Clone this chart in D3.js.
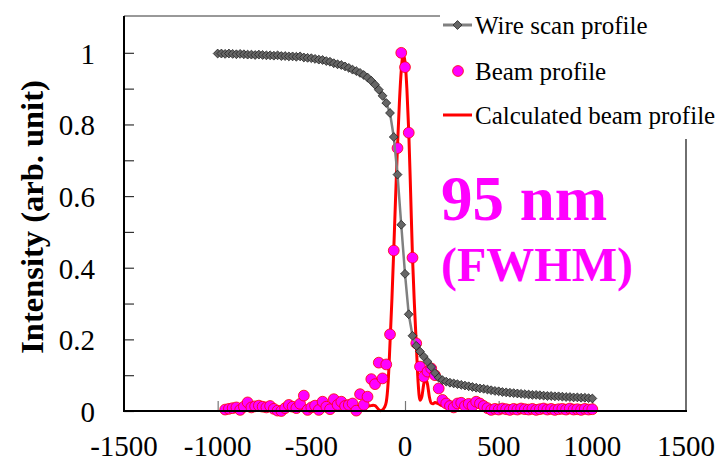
<!DOCTYPE html>
<html>
<head>
<meta charset="utf-8">
<script src="https://cdn.jsdelivr.net/npm/d3@7/dist/d3.min.js"></script>
<style>
  html, body { margin: 0; padding: 0; background: #fff; }
  svg { display: block; }
</style>
</head>
<body>
<svg id="chart" width="726" height="468" font-family="'Liberation Serif', 'DejaVu Serif', 'Times New Roman', Times, serif"></svg>
<script>
// ---------- data ----------
const wireX = [-1000,-980,-960,-940,-920,-900,-880,-860,-840,-820,-800,-780,-760,-740,-720,-700,-680,-660,-640,-620,-600,-580,-560,-540,-520,-500,-480,-460,-440,-420,-400,-380,-360,-340,-320,-300,-280,-260,-240,-220,-200,-180,-160,-140,-120,-100,-80,-60,-40,-20,0,20,40,60,80,100,120,140,160,180,200,220,240,260,280,300,320,340,360,380,400,420,440,460,480,500,520,540,560,580,600,620,640,660,680,700,720,740,760,780,800,820,840,860,880,900,920,940,960,980,1000];
const wireY = [0.998,0.998,0.997,0.998,0.997,0.996,0.997,0.996,0.995,0.995,0.994,0.995,0.994,0.993,0.993,0.992,0.993,0.991,0.991,0.990,0.990,0.989,0.990,0.987,0.986,0.985,0.983,0.981,0.980,0.977,0.975,0.971,0.968,0.966,0.962,0.958,0.953,0.949,0.944,0.938,0.931,0.922,0.911,0.897,0.880,0.860,0.832,0.765,0.660,0.520,0.383,0.270,0.210,0.182,0.166,0.152,0.138,0.123,0.106,0.093,0.086,0.082,0.079,0.077,0.075,0.073,0.071,0.069,0.067,0.065,0.063,0.062,0.060,0.058,0.056,0.055,0.053,0.052,0.051,0.050,0.049,0.048,0.047,0.046,0.045,0.045,0.044,0.043,0.042,0.042,0.041,0.041,0.040,0.039,0.039,0.038,0.038,0.037,0.037,0.036,0.035];

const beamX = [-960,-940,-920,-900,-880,-860,-840,-820,-800,-780,-760,-740,-720,-700,-680,-660,-640,-620,-600,-580,-560,-540,-520,-500,-480,-460,-440,-420,-400,-380,-360,-340,-320,-300,-280,-260,-240,-220,-200,-180,-160,-140,-120,-100,-80,-60,-40,-20,0,20,40,60,80,100,120,140,160,180,200,220,240,260,280,300,320,340,360,380,400,420,440,460,480,500,520,540,560,580,600,620,640,660,680,700,720,740,760,780,800,820,840,860,880,900,920,940,960,980,1000];
const beamY = [0.004,0.006,0.008,0.010,0.003,0.012,0.024,0.010,0.013,0.015,0.012,0.010,0.014,0.006,0.001,0.000,0.008,0.017,0.012,0.008,0.020,0.043,0.003,0.010,0.015,0.003,0.026,0.012,0.005,0.033,0.017,0.026,0.014,0.017,0.021,0.001,0.047,0.017,0.040,0.089,0.075,0.135,0.091,0.130,0.214,0.448,0.734,1.000,0.960,0.777,0.428,0.189,0.124,0.096,0.110,0.119,0.100,0.063,0.031,0.021,0.014,0.010,0.021,0.023,0.014,0.020,0.014,0.026,0.021,0.014,0.008,0.003,0.006,0.004,0.007,0.005,0.003,0.006,0.004,0.007,0.005,0.004,0.006,0.003,0.005,0.007,0.004,0.006,0.003,0.005,0.006,0.004,0.007,0.004,0.005,0.003,0.006,0.004,0.005];

const calcX = [-500,-480,-460,-440,-420,-400,-380,-360,-340,-320,-300,-280,-260,-240,-220,-200,-180,-170,-160,-150,-140,-130,-120,-110,-100,-90,-80,-70,-60,-50,-40,-30,-20,-10,0,10,20,30,40,50,60,70,80,90,100,110,120,130,140,150,160,180,200,220,240,260,280,300,320,340,360,380,400,420,440,460,480,500];
const calcY = [0.005,0.008,0.010,0.010,0.010,0.010,0.011,0.011,0.011,0.010,0.010,0.010,0.011,0.012,0.013,0.014,0.015,0.016,0.015,0.010,0.004,0.001,0.003,0.010,0.025,0.080,0.190,0.310,0.450,0.600,0.740,0.860,0.950,0.995,0.975,0.900,0.780,0.610,0.430,0.300,0.190,0.080,0.030,0.040,0.075,0.090,0.075,0.040,0.022,0.020,0.024,0.020,0.015,0.016,0.015,0.014,0.013,0.013,0.014,0.013,0.012,0.012,0.011,0.010,0.008,0.006,0.004,0.002];

const xTicks = [-1500,-1000,-500,0,500,1000,1500];
const yTicks = [0,0.2,0.4,0.6,0.8,1];
const yMinorTicks = [0.1,0.3,0.5,0.7,0.9];
const seriesNames = ["Wire scan profile","Beam profile","Calculated beam profile"];
const annotation = ["95 nm","(FWHM)"];

// ---------- layout ----------
const svg = d3.select("#chart");
const mLeft = 124, mRight = 686, mTop = 16, mBottom = 411;
const x = d3.scaleLinear().domain([-1500, 1500]).range([mLeft, mRight]);
const y = d3.scaleLinear().domain([0, 1.1]).range([mBottom, mTop + 1]);

svg.append("line").attr("x1", mLeft).attr("x2", mRight).attr("y1", mTop).attr("y2", mTop)
  .attr("stroke", "#333").attr("stroke-width", 1);
svg.append("line").attr("x1", mRight).attr("x2", mRight).attr("y1", mTop).attr("y2", mBottom)
  .attr("stroke", "#222").attr("stroke-width", 1.3);

const yAxis = d3.axisRight(y).tickValues(yTicks.concat(yMinorTicks)).tickSize(10).tickFormat("");
const gy = svg.append("g").attr("transform", `translate(${mLeft},0)`).call(yAxis);
gy.select(".domain").remove();
gy.selectAll(".tick line").attr("stroke", "#333").attr("stroke-width", 1.2);

svg.append("g").selectAll("text").data(yTicks).join("text")
  .attr("x", 95).attr("y", d => y(d) + 11)
  .attr("text-anchor", "end").attr("font-size", 29).attr("fill", "#000")
  .text(d => d3.format("")(d));

const xAxis = d3.axisTop(x).tickValues(xTicks.slice(1, -1)).tickSize(10).tickFormat("");
const gx = svg.append("g").attr("transform", `translate(0,${mBottom})`).call(xAxis);
gx.select(".domain").remove();
gx.selectAll(".tick line").attr("stroke", "#777").attr("stroke-width", 1.2);

svg.append("g").selectAll("text").data(xTicks).join("text")
  .attr("x", d => x(d)).attr("y", 456)
  .attr("text-anchor", "middle").attr("font-size", 29).attr("fill", "#000")
  .text(d => d);

svg.append("text")
  .attr("transform", `translate(43,217) rotate(-90)`)
  .attr("text-anchor", "middle").attr("font-size", 32.5).attr("font-weight", "bold")
  .text("Intensity (arb. unit)");

// ---------- series ----------
const calcData = calcX.map((d, i) => [d, calcY[i]]);
const wireData = wireX.map((d, i) => [d, wireY[i]]);
const beamData = beamX.map((d, i) => [d, beamY[i]]);

svg.append("path").datum(calcData)
  .attr("d", d3.line().x(d => x(d[0])).y(d => y(d[1])).curve(d3.curveMonotoneX))
  .attr("fill", "none").attr("stroke", "#ff0000").attr("stroke-width", 3);

svg.append("g").selectAll("circle").data(beamData).join("circle")
  .attr("cx", d => x(d[0])).attr("cy", d => y(d[1])).attr("r", 5.4)
  .attr("fill", "#ff00ff").attr("stroke", "#ff0000").attr("stroke-width", 0.8);

svg.append("path").datum(wireData)
  .attr("d", d3.line().x(d => x(d[0])).y(d => y(d[1])))
  .attr("fill", "none").attr("stroke", "#808080").attr("stroke-width", 2.5);
const diamond = d3.symbol().type(d3.symbolDiamond2).size(50);
svg.append("g").selectAll("path").data(wireData).join("path")
  .attr("transform", d => `translate(${x(d[0])},${y(d[1])})`)
  .attr("d", diamond)
  .attr("fill", "#666").attr("stroke", "#222").attr("stroke-width", 0.8);

svg.append("line").attr("x1", mLeft).attr("x2", mRight + 1).attr("y1", mBottom).attr("y2", mBottom)
  .attr("stroke", "#000").attr("stroke-width", 2);
svg.append("line").attr("x1", mLeft).attr("x2", mLeft).attr("y1", mTop).attr("y2", mBottom + 1)
  .attr("stroke", "#000").attr("stroke-width", 2);

// ---------- legend ----------
svg.append("rect").attr("x", 440).attr("y", 0).attr("width", 286).attr("height", 139).attr("fill", "#fff");
const lg = svg.append("g");
const ly = [25, 71, 115];
lg.append("line").attr("x1", 443).attr("x2", 472).attr("y1", ly[0]).attr("y2", ly[0])
  .attr("stroke", "#808080").attr("stroke-width", 3);
lg.append("path").attr("transform", `translate(457.5,${ly[0]})`).attr("d", diamond)
  .attr("fill", "#666").attr("stroke", "#222").attr("stroke-width", 0.8);
lg.append("circle").attr("cx", 458).attr("cy", ly[1]).attr("r", 5.4)
  .attr("fill", "#ff00ff").attr("stroke", "#ff0000").attr("stroke-width", 0.8);
lg.append("line").attr("x1", 443).attr("x2", 472).attr("y1", ly[2]).attr("y2", ly[2])
  .attr("stroke", "#ff0000").attr("stroke-width", 3);
lg.selectAll("text").data(seriesNames).join("text")
  .attr("x", 475).attr("y", (d, i) => ly[i] + 9)
  .attr("font-size", 25).attr("fill", "#000")
  .text(d => d);

// ---------- annotation ----------
svg.append("text").attr("x", 441).attr("y", 220)
  .attr("font-size", 63).attr("font-weight", "bold").attr("fill", "#ff00ff")
  .text(annotation[0]);
svg.append("text").attr("x", 441).attr("y", 281)
  .attr("font-size", 48).attr("font-weight", "bold").attr("fill", "#ff00ff")
  .text(annotation[1]);
</script>
</body>
</html>
